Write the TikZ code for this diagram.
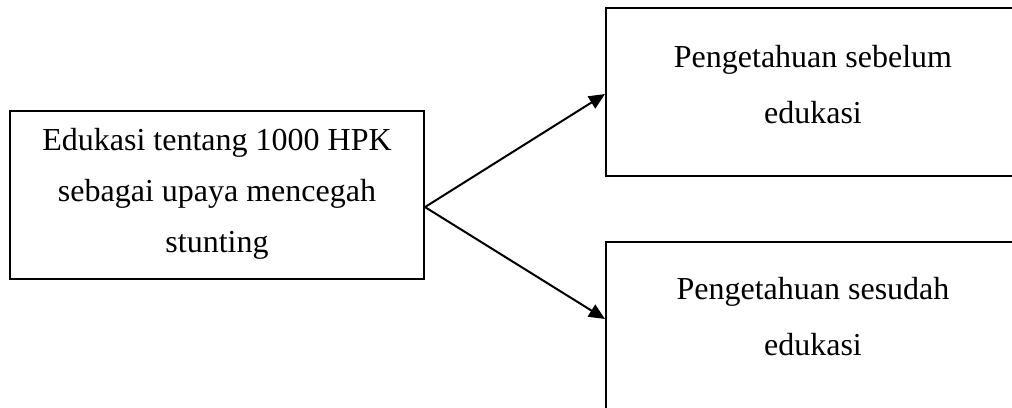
\documentclass[tikz,border=0pt]{standalone}
\usepackage{fontspec}
\setmainfont{Liberation Serif}
\usetikzlibrary{arrows.meta,calc}
\begin{document}
\begin{tikzpicture}[x=0.5pt,y=-0.5pt,
  box/.style={draw=black,line width=1pt,rectangle,inner sep=0pt},
  txt/.style={align=center,inner sep=0pt,font=\fontsize{16}{25.5}\selectfont},
  txtr/.style={align=center,inner sep=0pt,font=\fontsize{16}{28}\selectfont},
  arr/.style={line width=1pt,-{Triangle[length=8pt,width=7pt]}}]
\useasboundingbox (0,0) rectangle (1012,407);
\clip (0,0) rectangle (1012,407);
\node[box,minimum width=207pt,minimum height=84pt] (src) at (217,195) {};
\node[box,minimum width=212pt,minimum height=84pt] (t1) at (818,92) {};
\node[box,minimum width=212pt,minimum height=94pt] (t2) at (818,336) {};
\node[txt,anchor=base] (s) at (217,252) {Edukasi tentang 1000 HPK\\sebagai upaya mencegah\\stunting};
\node[txtr,anchor=base] (a) at (813,123) {Pengetahuan sebelum\\edukasi};
\node[txtr,anchor=base] (b) at (813,355) {Pengetahuan sesudah\\edukasi};
\coordinate (start) at ($(src.north east)!0.571!(src.south east)$);
\draw[arr] (start) -- ($(t1.north west)+(0,87)$);
\draw[arr] (start) -- ($(t2.north west)+(0,78)$);
\end{tikzpicture}
\end{document}
